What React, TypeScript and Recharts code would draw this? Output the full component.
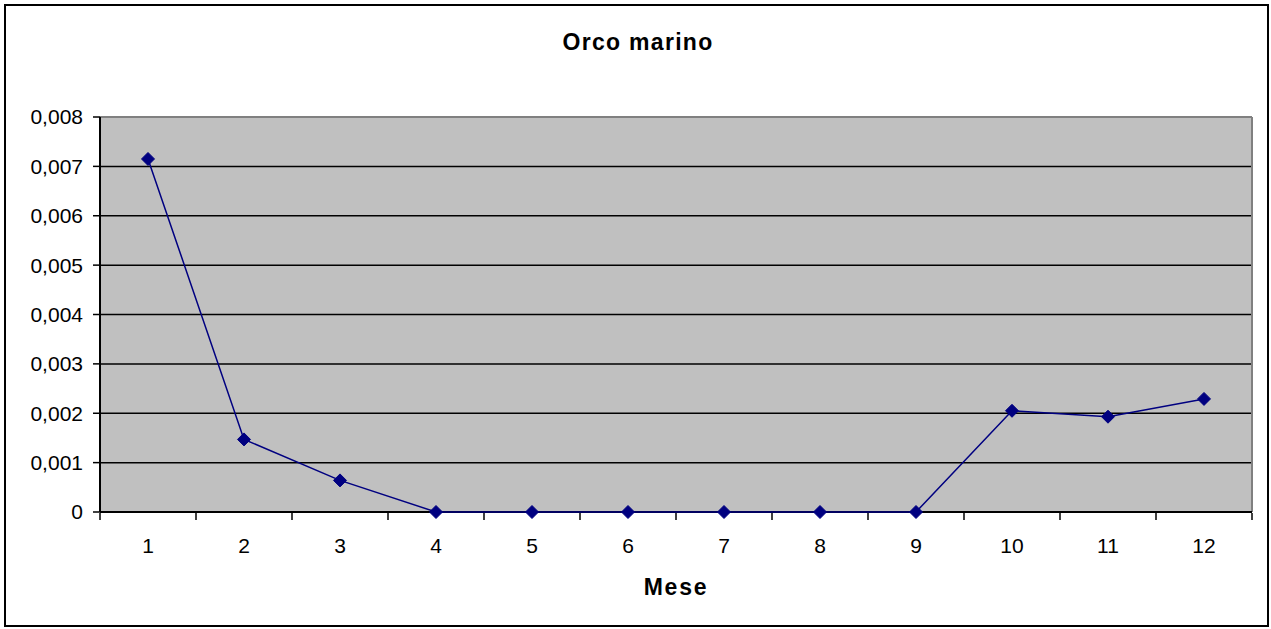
import React from 'react';
import {
  LineChart,
  Line,
  XAxis,
  YAxis,
  CartesianGrid,
  ReferenceLine,
} from 'recharts';

const months = [1, 2, 3, 4, 5, 6, 7, 8, 9, 10, 11, 12];
const values = [0.00715, 0.00147, 0.00064, 0, 0, 0, 0, 0, 0, 0.00205, 0.00193, 0.00229];
const yTicks = [0, 0.001, 0.002, 0.003, 0.004, 0.005, 0.006, 0.007, 0.008];
const boundaryTicks = [0.5, 1.5, 2.5, 3.5, 4.5, 5.5, 6.5, 7.5, 8.5, 9.5, 10.5, 11.5, 12.5];

const data = months.map((m, i) => ({ mese: m, valore: values[i] }));

const font = '"Liberation Sans", Arial, sans-serif';

const Diamond = (props: any) => {
  const { cx, cy } = props;
  if (cx == null || cy == null) return null;
  const r = 6.5;
  return (
    <polygon
      points={`${cx},${cy - r} ${cx + r},${cy} ${cx},${cy + r} ${cx - r},${cy}`}
      fill="#000080"
      stroke="#000080"
      strokeWidth={1}
    />
  );
};

const fmt = (v: number) => (v === 0 ? '0' : v.toFixed(3).replace('.', ','));

// tick mark only, labels come from the first x axis
const BlankTick = () => <g />;

const App: React.FC = () => {
  return (
    <div style={{ position: 'absolute', left: 0, top: 0, width: 1271, height: 629, background: '#fff' }}>
      <LineChart
        width={1271}
        height={629}
        data={data}
        margin={{ top: 117, right: 19, bottom: 37, left: 8 }}
      >
        <CartesianGrid horizontal vertical={false} stroke="#000" strokeWidth={1.5} fill="#C0C0C0" fillOpacity={1} />
        <XAxis
          dataKey="mese"
          type="number"
          domain={[0.5, 12.5]}
          ticks={months}
          height={1}
          axisLine={false}
          tickLine={false}
          tickMargin={20}
          tick={{ fill: '#000', fontSize: 21, fontFamily: font }}
        />
        <XAxis
          xAxisId="t"
          dataKey="mese"
          type="number"
          domain={[0.5, 12.5]}
          ticks={boundaryTicks}
          tick={<BlankTick />}
          height={79}
          tickSize={7}
          axisLine={false}
          tickLine={{ stroke: '#000', strokeWidth: 1.5 }}
        />
        <YAxis
          type="number"
          domain={[0, 0.008]}
          ticks={yTicks}
          tickFormatter={fmt}
          width={92}
          tickSize={7}
          tickMargin={10}
          axisLine={{ stroke: '#000', strokeWidth: 2 }}
          tickLine={{ stroke: '#000', strokeWidth: 1.5 }}
          tick={{ fill: '#000', fontSize: 21, fontFamily: font }}
        />
        <ReferenceLine y={0.008} stroke="#808080" strokeWidth={2} />
        <ReferenceLine x={12.5} stroke="#808080" strokeWidth={2} />
        <ReferenceLine y={0} stroke="#000" strokeWidth={2} />
        <Line
          type="linear"
          dataKey="valore"
          stroke="#000080"
          strokeWidth={1.5}
          dot={<Diamond />}
          activeDot={false}
          isAnimationActive={false}
        />
      </LineChart>
      <div
        style={{
          position: 'absolute',
          left: 4,
          top: 4,
          width: 1261,
          height: 619,
          border: '2px solid #000',
          pointerEvents: 'none',
        }}
      />
      <div
        style={{
          position: 'absolute',
          left: 0,
          width: 1276,
          top: 29,
          textAlign: 'center',
          fontFamily: font,
          fontWeight: 'bold',
          fontSize: 23,
          letterSpacing: 1.3,
          color: '#000',
        }}
      >
        Orco marino
      </div>
      <div
        style={{
          position: 'absolute',
          left: 576,
          width: 200,
          top: 574,
          textAlign: 'center',
          fontFamily: font,
          fontWeight: 'bold',
          fontSize: 23,
          letterSpacing: 1.8,
          color: '#000',
        }}
      >
        Mese
      </div>
    </div>
  );
};

export default App;
